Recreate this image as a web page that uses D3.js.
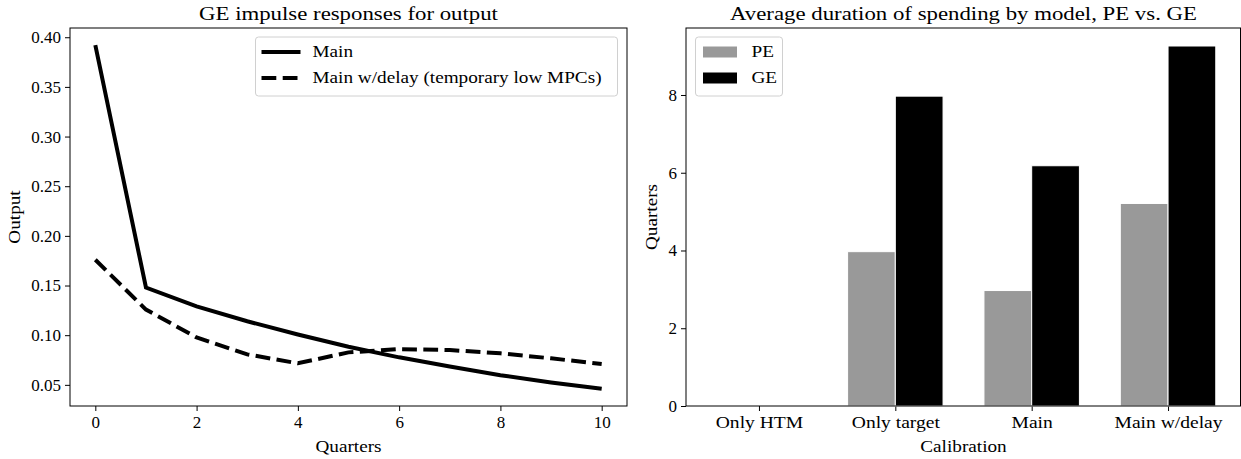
<!DOCTYPE html>
<html>
<head>
<meta charset="utf-8">
<script src="https://cdn.jsdelivr.net/npm/d3@7"></script>
<style>
  body { margin: 0; background: #fff; }
  svg text { font-family: "Liberation Serif", "DejaVu Serif", serif; fill: #000; }
</style>
</head>
<body>
<svg id="chart" width="1241" height="459"></svg>
<script>
// left panel: impulse responses
const quarters = [0, 1, 2, 3, 4, 5, 6, 7, 8, 9, 10];
const mainIrf = [0.392, 0.148, 0.129, 0.114, 0.1007, 0.0884, 0.0777, 0.0684, 0.0597, 0.0523, 0.046];
const delayIrf = [0.176, 0.1258, 0.0977, 0.0807, 0.0717, 0.0827, 0.086, 0.085, 0.0817, 0.0767, 0.071];
const lineNames = ["Main", "Main w/delay (temporary low MPCs)"];
const yTicksLeft = [0.05, 0.10, 0.15, 0.20, 0.25, 0.30, 0.35, 0.40];
const xTicksLeft = [0, 2, 4, 6, 8, 10];

// right panel: average duration
const calibrations = ["Only HTM", "Only target", "Main", "Main w/delay"];
const peValues = [0, 3.97, 2.97, 5.21];
const geValues = [0, 7.97, 6.18, 9.26];
const barNames = ["PE", "GE"];
const yTicksRight = [0, 2, 4, 6, 8];

const svg = d3.select("#chart");
const axTop = 28, axBottom = 406;
const lw = 4, dash = "14.8,6.4";

// matplotlib-like 5% margins
function padded(lo, hi) {
  const p = (hi - lo) * 0.05;
  return [lo - p, hi + p];
}

// the reference font (Palatino-ish) runs wider than Liberation Serif
function widen(sel, k) {
  sel.each(function () {
    const w = this.getComputedTextLength();
    this.setAttribute("textLength", w * k);
    this.setAttribute("lengthAdjust", "spacingAndGlyphs");
  });
}

// ---------- left panel ----------
const L = {left: 70, right: 627};
const xL = d3.scaleLinear().domain(padded(0, 10)).range([L.left, L.right]);
const allY = mainIrf.concat(delayIrf);
const yL = d3.scaleLinear().domain(padded(d3.min(allY), d3.max(allY))).range([axBottom, axTop]);

const gL = svg.append("g");

gL.append("g")
  .attr("transform", `translate(0,${axBottom})`)
  .call(d3.axisBottom(xL).tickValues(xTicksLeft).tickFormat(d3.format("d")).tickSizeOuter(0).tickSize(5).tickPadding(5))
  .call(g => g.select(".domain").remove());
gL.append("g")
  .attr("transform", `translate(${L.left},0)`)
  .call(d3.axisLeft(yL).tickValues(yTicksLeft).tickFormat(d3.format(".2f")).tickSizeOuter(0).tickSize(5).tickPadding(4))
  .call(g => g.select(".domain").remove());

const line = d3.line().x((d, i) => xL(quarters[i])).y(d => yL(d));
gL.append("path").datum(mainIrf)
  .attr("d", line).attr("fill", "none").attr("stroke", "#000").attr("stroke-width", lw);
gL.append("path").datum(delayIrf)
  .attr("d", line).attr("fill", "none").attr("stroke", "#000").attr("stroke-width", lw)
  .attr("stroke-dasharray", dash);

gL.append("rect")
  .attr("x", L.left).attr("y", axTop).attr("width", L.right - L.left).attr("height", axBottom - axTop)
  .attr("fill", "none").attr("stroke", "#000").attr("stroke-width", 1);

// legend
const legL = gL.append("g").attr("transform", "translate(255.5,37)");
legL.append("rect").attr("width", 362).attr("height", 59).attr("rx", 3)
  .attr("fill", "#fff").attr("fill-opacity", 0.8).attr("stroke", "#d0d0d0");
lineNames.forEach((name, i) => {
  const y = 15 + i * 26;
  legL.append("line").attr("x1", 6).attr("x2", 45).attr("y1", y).attr("y2", y)
    .attr("stroke", "#000").attr("stroke-width", lw)
    .attr("stroke-dasharray", i === 1 ? dash : null);
  legL.append("text").attr("class", "wide").attr("x", 57).attr("y", y).attr("dy", "0.33em")
    .attr("font-size", 16).text(name);
});

gL.append("text").attr("class", "wide title").attr("x", (L.left + L.right) / 2).attr("y", 20)
  .attr("text-anchor", "middle").attr("font-size", 19).text("GE impulse responses for output");
gL.append("text").attr("class", "wide").attr("x", (L.left + L.right) / 2).attr("y", 452)
  .attr("text-anchor", "middle").attr("font-size", 16).text("Quarters");
gL.append("text").attr("class", "wide").attr("transform", `translate(20,${(axTop + axBottom) / 2}) rotate(-90)`)
  .attr("text-anchor", "middle").attr("font-size", 16).text("Output");

// ---------- right panel ----------
const R = {left: 686, right: 1241};
const barW = 0.35;
const xR = d3.scaleLinear().domain(padded(-barW, calibrations.length - 1 + barW)).range([R.left, R.right]);
const yR = d3.scaleLinear().domain([0, d3.max(geValues) * 1.05]).range([axBottom, axTop]);

const gR = svg.append("g");

gR.append("g")
  .attr("class", "cats")
  .attr("transform", `translate(0,${axBottom})`)
  .call(d3.axisBottom(xR).tickValues(d3.range(calibrations.length)).tickFormat(i => calibrations[i]).tickSizeOuter(0).tickSize(5).tickPadding(5))
  .call(g => g.select(".domain").remove());
gR.append("g")
  .attr("transform", `translate(${R.left},0)`)
  .call(d3.axisLeft(yR).tickValues(yTicksRight).tickFormat(d3.format("d")).tickSizeOuter(0).tickSize(5).tickPadding(4))
  .call(g => g.select(".domain").remove());

const series = [
  {name: "PE", values: peValues, color: "#999999", offset: -barW / 2},
  {name: "GE", values: geValues, color: "#000000", offset: barW / 2}
];
series.forEach(s => {
  gR.append("g").selectAll("rect").data(s.values).join("rect")
    .attr("x", (d, i) => xR(i + s.offset - barW / 2))
    .attr("width", xR(barW) - xR(0))
    .attr("y", d => yR(d))
    .attr("height", d => yR(0) - yR(d))
    .attr("fill", s.color)
    .attr("stroke", "#fff").attr("stroke-width", 1);
});

gR.append("rect")
  .attr("x", R.left).attr("y", axTop).attr("width", R.right - R.left - 0.5).attr("height", axBottom - axTop)
  .attr("fill", "none").attr("stroke", "#000").attr("stroke-width", 1);

const legR = gR.append("g").attr("transform", "translate(695.5,37)");
legR.append("rect").attr("width", 87).attr("height", 59).attr("rx", 3)
  .attr("fill", "#fff").attr("fill-opacity", 0.8).attr("stroke", "#d0d0d0");
series.forEach((s, i) => {
  const y = 15 + i * 26;
  legR.append("rect").attr("x", 7.5).attr("y", y - 5.5).attr("width", 34).attr("height", 11)
    .attr("fill", s.color);
  legR.append("text").attr("class", "wide").attr("x", 56).attr("y", y).attr("dy", "0.33em")
    .attr("font-size", 16).text(barNames[i]);
});

gR.append("text").attr("class", "wide title").attr("x", (R.left + R.right) / 2).attr("y", 20)
  .attr("text-anchor", "middle").attr("font-size", 19).text("Average duration of spending by model, PE vs. GE");
gR.append("text").attr("class", "wide").attr("x", (R.left + R.right) / 2).attr("y", 452)
  .attr("text-anchor", "middle").attr("font-size", 16).text("Calibration");
gR.append("text").attr("class", "wide").attr("transform", `translate(657,${(axTop + axBottom) / 2}) rotate(-90)`)
  .attr("text-anchor", "middle").attr("font-size", 16).text("Quarters");

svg.selectAll(".tick text").attr("font-size", 17).attr("font-family", "Liberation Serif, serif").attr("fill", "#000");
svg.selectAll(".tick line").attr("stroke", "#000");

widen(svg.selectAll("text.wide"), 1.2);
widen(svg.selectAll(".cats .tick text"), 1.15);
</script>
</body>
</html>
